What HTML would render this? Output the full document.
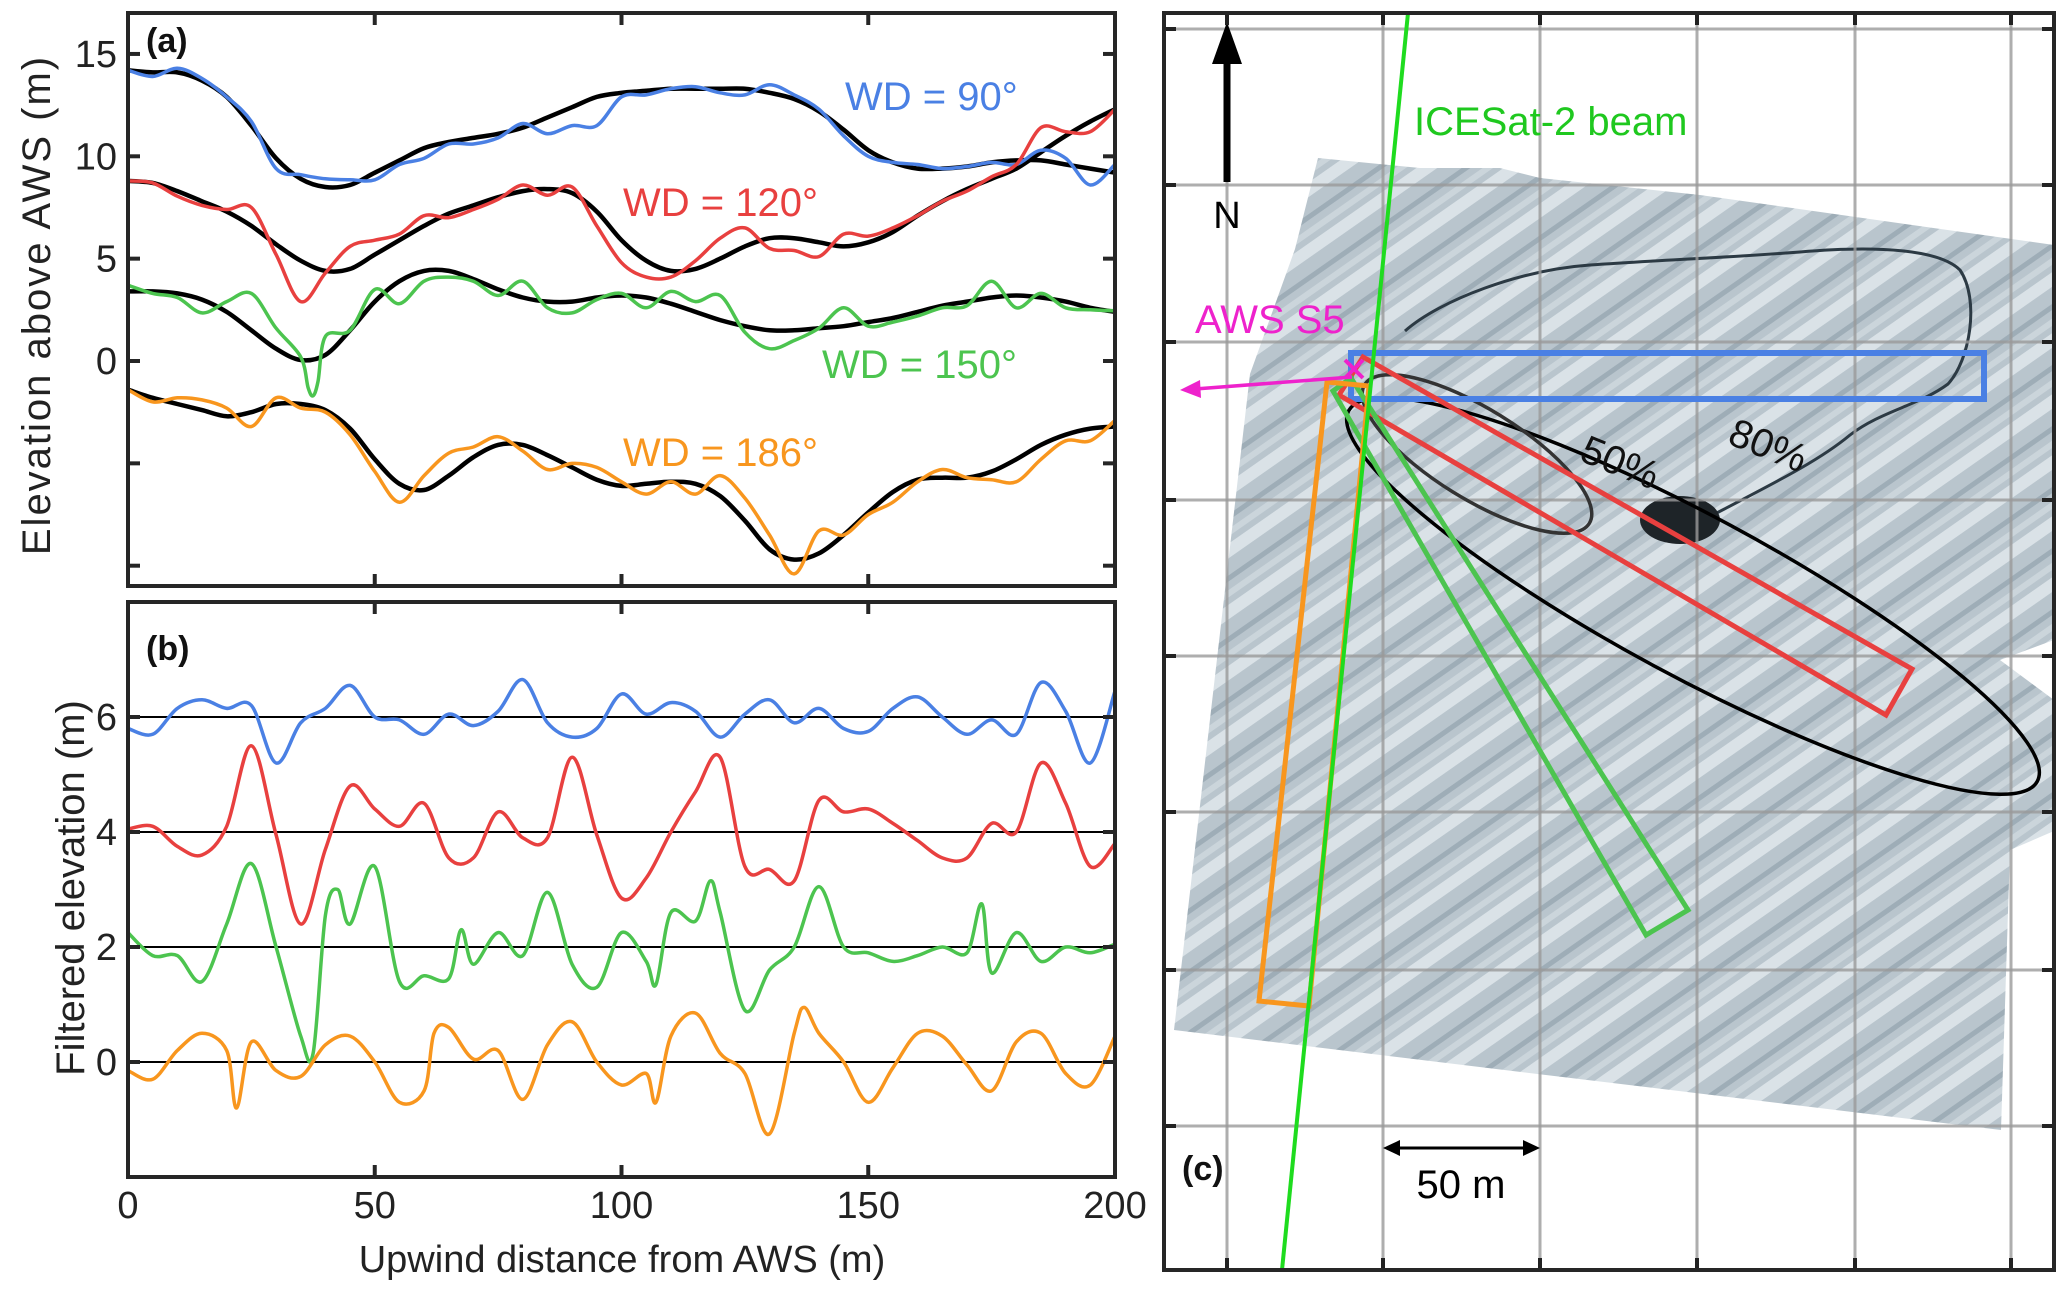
<!DOCTYPE html>
<html><head><meta charset="utf-8"><style>
html,body{margin:0;padding:0;background:#fff;}
svg text{font-family:"Liberation Sans",sans-serif;}
</style></head><body>
<svg id="fig" width="2067" height="1290" viewBox="0 0 2067 1290" xmlns="http://www.w3.org/2000/svg">
<defs>
<pattern id="tex" width="50" height="50" patternUnits="userSpaceOnUse" patternTransform="rotate(-35)">
<rect width="50" height="50" fill="#b9c5cd"/>
<rect x="0" y="0" width="50" height="12" fill="#dae2e7"/>
<rect x="0" y="26" width="50" height="5" fill="#9eadb7"/>
<rect x="0" y="38" width="50" height="6" fill="#cbd5db"/>
</pattern>
<clipPath id="clipA"><rect x="128" y="13" width="987" height="573"/></clipPath>
<clipPath id="clipB"><rect x="128" y="602" width="987" height="575"/></clipPath>
<clipPath id="clipC"><rect x="1164" y="13" width="890" height="1257"/></clipPath>
</defs>
<g id="panelA"></g>
<g id="panelB"></g>
<g id="panelC"></g>
</svg>
<script>
// ---------- Panel (a) data ----------
const distA = [0,5,10,15,20,25,30,35,40,45,50,55,60,65,70,75,80,85,90,95,100,105,110,115,120,125,130,135,140,145,150,155,160,165,170,175,180,185,190,195,200];
const blueA = [14.2,13.9,14.3,13.8,12.9,11.7,9.4,9.1,8.9,8.85,8.85,9.6,9.9,10.6,10.6,10.9,11.6,11.1,11.5,11.5,12.9,13.0,13.3,13.4,13.1,13.0,13.5,13.0,12.3,11.0,10.0,9.7,9.6,9.4,9.5,9.7,9.6,10.3,9.9,8.6,9.6];
const blueFit = [14.2,14.1,14.1,13.7,12.9,11.5,9.9,8.9,8.5,8.6,9.2,9.8,10.4,10.7,10.9,11.1,11.4,11.9,12.4,12.9,13.1,13.2,13.3,13.3,13.3,13.3,13.1,12.8,12.2,11.3,10.3,9.7,9.4,9.4,9.5,9.7,9.8,9.8,9.6,9.4,9.2];
const redA = [8.8,8.7,8.05,7.6,7.4,7.5,5.2,2.9,4.3,5.6,5.9,6.2,7.1,7.0,7.4,7.9,8.6,8.1,8.5,6.6,4.8,4.1,4.1,4.9,6.0,6.5,5.5,5.4,5.1,6.2,6.1,6.5,7.1,7.8,8.3,9.0,9.6,11.4,11.2,11.2,12.3];
const redFit = [8.8,8.7,8.3,7.8,7.3,6.6,5.7,4.9,4.4,4.5,5.2,5.9,6.6,7.2,7.6,8.0,8.3,8.4,8.2,7.3,5.9,4.9,4.4,4.5,5.0,5.6,6.0,6.0,5.8,5.6,5.8,6.3,7.1,7.8,8.4,8.9,9.4,10.2,11.0,11.7,12.3];
const greenA = [3.7,3.3,3.1,2.35,2.9,3.3,1.6,0.2,1.2,1.5,3.5,2.8,3.9,4.1,3.9,3.2,3.9,2.6,2.35,3.0,3.3,2.6,3.4,2.9,3.2,1.4,0.6,1.0,1.6,2.6,1.7,1.9,2.2,2.6,2.7,3.9,2.6,3.3,2.6,2.5,2.45];
const greenFit = [3.4,3.4,3.3,3.0,2.4,1.5,0.6,0.05,0.3,1.5,2.9,3.9,4.4,4.4,4.0,3.5,3.1,2.9,2.9,3.1,3.2,3.1,2.8,2.4,2.0,1.7,1.5,1.5,1.6,1.7,1.9,2.1,2.4,2.7,2.9,3.1,3.2,3.1,2.9,2.6,2.4];
const greenAdipX = [36.5,37.5,38.5];
const greenAdipY = [-1.3,-1.7,-1.0];
const orangeA = [-1.4,-2.0,-1.8,-1.9,-2.3,-3.2,-1.8,-2.3,-2.5,-3.6,-5.4,-6.9,-5.6,-4.5,-4.2,-3.7,-4.4,-5.3,-5.0,-5.2,-5.9,-6.5,-5.9,-6.5,-5.6,-6.7,-8.5,-10.4,-8.3,-8.5,-7.5,-6.9,-5.9,-5.3,-5.7,-5.8,-5.9,-4.8,-3.9,-3.9,-2.9];
const orangeFit = [-1.4,-1.8,-2.1,-2.4,-2.7,-2.5,-2.1,-2.1,-2.4,-3.3,-4.8,-6.0,-6.3,-5.6,-4.7,-4.1,-4.1,-4.6,-5.2,-5.8,-6.1,-6.0,-5.9,-6.0,-6.6,-7.8,-9.2,-9.7,-9.4,-8.5,-7.4,-6.4,-5.8,-5.7,-5.7,-5.4,-4.8,-4.1,-3.6,-3.3,-3.2];
const ticksAy = [15,10,5,0];
const ticksAyUnlabeled = [-5,-10];
// ---------- Panel (b) data ----------
const distB = [0,5,10,15,20,25,30,35,40,45,50,55,60,65,70,75,80,85,90,95,100,105,110,115,120,125,130,135,140,145,150,155,160,165,170,175,180,185,190,195,200];
const blueB = [5.8,5.7,6.15,6.3,6.15,6.2,5.2,5.9,6.15,6.55,6.0,5.95,5.7,6.05,5.85,6.1,6.65,5.9,5.65,5.8,6.4,6.05,6.25,6.1,5.65,6.05,6.3,5.9,6.15,5.8,5.75,6.15,6.35,6.0,5.7,5.95,5.7,6.6,6.1,5.2,6.45];
const redB = [4.05,4.1,3.75,3.6,4.1,5.5,3.95,2.4,3.7,4.8,4.4,4.1,4.5,3.55,3.55,4.35,3.9,3.9,5.3,3.95,2.85,3.2,4.0,4.7,5.3,3.4,3.35,3.15,4.55,4.35,4.4,4.15,3.85,3.55,3.55,4.15,4.0,5.2,4.5,3.4,3.8];
const greenBx = [0,5,10,15,20,25,30,35,37.5,40,42.5,45,50,55,60,65,67.5,70,75,80,85,90,95,100,105,107,110,115,118,120,125,130,135,140,145,150,155,160,165,170,173,175,180,185,190,195,200];
const greenB = [2.25,1.85,1.85,1.4,2.4,3.45,2.0,0.45,0.15,2.55,3.0,2.4,3.4,1.4,1.5,1.45,2.3,1.7,2.25,1.85,2.95,1.7,1.3,2.25,1.75,1.35,2.6,2.45,3.15,2.6,0.9,1.6,2.0,3.05,2.0,1.9,1.75,1.85,2.0,1.9,2.75,1.55,2.25,1.75,2.0,1.9,2.05];
const orangeBx = [0,5,10,15,20,22,25,30,35,40,45,50,55,60,62,65,70,75,80,85,90,95,100,105,107,110,115,120,125,130,135,137,140,145,150,155,160,165,170,175,180,185,190,195,200];
const orangeB = [-0.15,-0.3,0.2,0.5,0.2,-0.8,0.35,-0.15,-0.25,0.3,0.45,0.0,-0.7,-0.5,0.5,0.6,0.05,0.2,-0.65,0.3,0.7,0.0,-0.4,-0.2,-0.7,0.45,0.85,0.15,-0.2,-1.25,0.5,0.95,0.5,0.0,-0.7,-0.1,0.5,0.45,-0.05,-0.5,0.35,0.5,-0.2,-0.4,0.45];
const ticksBy = [6,4,2,0];
const ticksX = [0,50,100,150,200];

const NS = "http://www.w3.org/2000/svg";
function mk(tag, attrs, parent){ const e=document.createElementNS(NS,tag); for(const k in attrs) e.setAttribute(k,attrs[k]); parent.appendChild(e); return e; }
function xS(v){ return 128 + v*(1115-128)/200; }
function yA(v){ return 361 - 20.47*v; }
function yB(v){ return 1062 - 57.5*v; }
function smoothPath(xs, ys, fx, fy){
  const p = xs.map((x,i)=>[fx(x), fy(ys[i])]);
  let d = "M"+p[0][0].toFixed(1)+","+p[0][1].toFixed(1);
  for(let i=0;i<p.length-1;i++){
    const p0=p[Math.max(0,i-1)], p1=p[i], p2=p[i+1], p3=p[Math.min(p.length-1,i+2)];
    const c1=[p1[0]+(p2[0]-p0[0])/6, p1[1]+(p2[1]-p0[1])/6];
    const c2=[p2[0]-(p3[0]-p1[0])/6, p2[1]-(p3[1]-p1[1])/6];
    d += " C"+c1[0].toFixed(1)+","+c1[1].toFixed(1)+" "+c2[0].toFixed(1)+","+c2[1].toFixed(1)+" "+p2[0].toFixed(1)+","+p2[1].toFixed(1);
  }
  return d;
}
function mergeDip(xs, ys, dx, dy){
  const pts = xs.map((x,i)=>[x,ys[i]]).concat(dx.map((x,i)=>[x,dy[i]])).sort((a,b)=>a[0]-b[0]);
  return [pts.map(p=>p[0]), pts.map(p=>p[1])];
}
const C = {blue:"#4a80e4", red:"#e8403f", green:"#4cc44f", orange:"#f8961e"};

// ---- Panel A ----
const A = document.getElementById("panelA");
const gA = mk("g",{"clip-path":"url(#clipA)"},A);
function line(parent, d, color, w, name){
  const el = mk("path",{d:d, fill:"none", stroke:color, "stroke-width":w, "stroke-linejoin":"round"}, parent);
  
  
  return el;
}
line(gA, smoothPath(distA, blueFit, xS, yA), "#000", 4.5, "fit-line-wd90");
line(gA, smoothPath(distA, redFit, xS, yA), "#000", 4.5, "fit-line-wd120");
line(gA, smoothPath(distA, greenFit, xS, yA), "#000", 4.5, "fit-line-wd150");
line(gA, smoothPath(distA, orangeFit, xS, yA), "#000", 4.5, "fit-line-wd186");
line(gA, smoothPath(distA, blueA, xS, yA), C.blue, 3.5, "profile-wd90");
line(gA, smoothPath(distA, redA, xS, yA), C.red, 3.5, "profile-wd120");
const gm = mergeDip(distA, greenA, greenAdipX, greenAdipY);
line(gA, smoothPath(gm[0], gm[1], xS, yA), C.green, 3.5, "profile-wd150");
line(gA, smoothPath(distA, orangeA, xS, yA), C.orange, 3.5, "profile-wd186");

function axes(parent, top, bot, yTicks, yUn, yF, labelTicks, prefix){
  const frame = mk("rect",{x:128,y:top,width:987,height:bot-top,fill:"none",stroke:"#262626","stroke-width":4},parent);
  
  
  ticksX.forEach(v=>{
    const t1 = mk("line",{x1:xS(v),x2:xS(v),y1:top,y2:top+12,stroke:"#262626","stroke-width":4},parent);
    
    
    const t2 = mk("line",{x1:xS(v),x2:xS(v),y1:bot,y2:bot-12,stroke:"#262626","stroke-width":4},parent);
    
    
  });
  yTicks.concat(yUn).forEach(v=>{
    const t1 = mk("line",{x1:128,x2:140,y1:yF(v),y2:yF(v),stroke:"#262626","stroke-width":4},parent);
    
    
    const t2 = mk("line",{x1:1115,x2:1103,y1:yF(v),y2:yF(v),stroke:"#262626","stroke-width":4},parent);
    
    
  });
  if(labelTicks){
    yTicks.forEach(v=>{
      const t = mk("text",{x:117,y:yF(v)+13,"text-anchor":"end","font-size":38,fill:"#222"},parent);
      t.textContent = v;
      
      
    });
  }
}
axes(A, 13, 586, ticksAy, ticksAyUnlabeled, yA, true, "panel-a");
function txt(parent, s, attrs, name){
  const t = mk("text", attrs, parent); t.textContent = s;
  
  
  return t;
}
txt(A,"(a)",{x:146,y:52,"font-size":34,"font-weight":"bold",fill:"#111"},"panel-a-label");
txt(A,"WD = 90°",{x:845,y:110,"font-size":40,fill:C.blue},"label-wd90");
txt(A,"WD = 120°",{x:623,y:216,"font-size":40,fill:C.red},"label-wd120");
txt(A,"WD = 150°",{x:822,y:378,"font-size":40,fill:C.green},"label-wd150");
txt(A,"WD = 186°",{x:623,y:466,"font-size":40,fill:C.orange},"label-wd186");
txt(A,"Elevation  above  AWS  (m)",{x:0,y:0,"font-size":40,fill:"#222","text-anchor":"middle","letter-spacing":"2",transform:"translate(50,305) rotate(-90)"},"y-axis-title-a");

// ---- Panel B ----
const B = document.getElementById("panelB");
const gB = mk("g",{"clip-path":"url(#clipB)"},B);
ticksBy.forEach(v=>{
  const l = mk("line",{x1:128,x2:1115,y1:yB(v),y2:yB(v),stroke:"#000","stroke-width":2},gB);
  
  
});
line(gB, smoothPath(distB, blueB, xS, yB), C.blue, 3.5, "filtered-wd90");
line(gB, smoothPath(distB, redB, xS, yB), C.red, 3.5, "filtered-wd120");
line(gB, smoothPath(greenBx, greenB, xS, yB), C.green, 3.5, "filtered-wd150");
line(gB, smoothPath(orangeBx, orangeB, xS, yB), C.orange, 3.5, "filtered-wd186");
axes(B, 602, 1177, ticksBy, [], yB, true, "panel-b");
ticksX.forEach(v=>{
  txt(B, String(v), {x:xS(v), y:1218, "text-anchor":"middle","font-size":38,fill:"#222"}, "x-tick-label");
});
txt(B,"(b)",{x:146,y:660,"font-size":34,"font-weight":"bold",fill:"#111"},"panel-b-label");
txt(B,"Filtered elevation (m)",{x:0,y:0,"font-size":40,fill:"#222","text-anchor":"middle",transform:"translate(84,888) rotate(-90)"},"y-axis-title-b");
txt(B,"Upwind distance from AWS (m)",{x:622,y:1272,"font-size":38,fill:"#222","text-anchor":"middle"},"x-axis-title");

// ---- Panel C (map) ----
const P = document.getElementById("panelC");
const gC = mk("g",{"clip-path":"url(#clipC)"},P);
const mapPoly = mk("polygon",{points:"1318,158 1420,168 1500,168 1540,178 1700,195 2054,245 2054,640 2000,660 2054,700 2054,831 2010,850 2001,1130 1174,1030 1250,374 1295,249",fill:"url(#tex)",stroke:"none"},gC);


const river = mk("path",{d:"M1405,331 C1440,300 1520,270 1590,265 C1660,260 1722,258 1800,252 C1880,245 1940,250 1960,270 C1980,300 1970,360 1948,384 C1920,405 1881,411 1850,435 C1820,460 1780,480 1709,517",fill:"none",stroke:"#2c3a44","stroke-width":3},gC);


const lake = mk("ellipse",{cx:1680,cy:520,rx:40,ry:24,fill:"#1e2428"},gC);


// grid
const gridX = [1227,1383,1540,1697,1855,2011];
const gridY = [29,185,342,500,656,812,970,1126];
gridX.forEach(x=>{ const l=mk("line",{x1:x,x2:x,y1:13,y2:1270,stroke:"#9a9a9a","stroke-width":3,opacity:0.8},gC);  
  mk("line",{x1:x,x2:x,y1:13,y2:25,stroke:"#222","stroke-width":4},P); mk("line",{x1:x,x2:x,y1:1270,y2:1258,stroke:"#222","stroke-width":4},P); });
gridY.forEach(y=>{ const l=mk("line",{x1:1164,x2:2054,y1:y,y2:y,stroke:"#9a9a9a","stroke-width":3,opacity:0.8},gC);  
  mk("line",{x1:1164,x2:1176,y1:y,y2:y,stroke:"#222","stroke-width":4},P); mk("line",{x1:2054,x2:2042,y1:y,y2:y,stroke:"#222","stroke-width":4},P); });
// footprints
const f80 = mk("ellipse",{cx:1693,cy:596,rx:391,ry:80,fill:"none",stroke:"#000","stroke-width":3.5,transform:"rotate(28.3 1693 596)"},gC);
 
const f50 = mk("ellipse",{cx:1477,cy:454,rx:132,ry:45,fill:"none",stroke:"#333","stroke-width":3.5,transform:"rotate(31.7 1477 454)"},gC);
 
const rb = mk("polygon",{points:"1351,353 1984,353 1984,399 1351,399",fill:"none",stroke:C.blue,"stroke-width":6},gC);
 
const rr = mk("polygon",{points:"1363,357 1912,669 1886,715 1339,395",fill:"none",stroke:C.red,"stroke-width":5},gC);
 
const rg = mk("polygon",{points:"1351,378 1688,910 1646,935 1333,391",fill:"none",stroke:C.green,"stroke-width":5},gC);
 
const ro = mk("polygon",{points:"1327,382 1369,386 1309,1006 1259,1001",fill:"none",stroke:C.orange,"stroke-width":5},gC);
 
const beam = mk("line",{x1:1408,y1:13,x2:1282,y2:1270,stroke:"#1fdc1f","stroke-width":4},gC);
 
txt(gC,"ICESat-2 beam",{x:1414,y:135,"font-size":40,fill:"#1fc81f"},"icesat2-label");
txt(gC,"50%",{x:0,y:0,"font-size":40,fill:"#111",transform:"translate(1578,460) rotate(22)"},"label-50-percent");
txt(gC,"80%",{x:0,y:0,"font-size":40,fill:"#111",transform:"translate(1726,443) rotate(22)"},"label-80-percent");
// AWS
const aws = mk("g",{},gC);  
mk("line",{x1:1345,y1:360,x2:1363,y2:378,stroke:"#ee22cc","stroke-width":4},aws);
mk("line",{x1:1363,y1:360,x2:1345,y2:378,stroke:"#ee22cc","stroke-width":4},aws);
mk("line",{x1:1352,y1:377,x2:1195,y2:389,stroke:"#ee22cc","stroke-width":3.5},aws);
mk("polygon",{points:"1180,390 1200,380 1201,398",fill:"#ee22cc"},aws);
txt(gC,"AWS S5",{x:1195,y:333,"font-size":40,fill:"#ee22cc"},"aws-s5-label");
// north arrow
const na = mk("g",{},gC);  
mk("line",{x1:1227,y1:60,x2:1227,y2:182,stroke:"#000","stroke-width":7},na);
mk("polygon",{points:"1227,22 1212,64 1242,64",fill:"#000"},na);
txt(gC,"N",{x:1227,y:228,"font-size":38,"text-anchor":"middle",fill:"#000"},"north-label");
// scale bar
const sb = mk("g",{},gC);  
mk("line",{x1:1388,y1:1148,x2:1535,y2:1148,stroke:"#000","stroke-width":3},sb);
mk("polygon",{points:"1383,1148 1400,1140 1400,1156",fill:"#000"},sb);
mk("polygon",{points:"1540,1148 1523,1140 1523,1156",fill:"#000"},sb);
txt(gC,"50 m",{x:1461,y:1198,"font-size":40,"text-anchor":"middle",fill:"#000"},"scale-bar-label");
txt(gC,"(c)",{x:1182,y:1180,"font-size":34,"font-weight":"bold",fill:"#111"},"panel-c-label");
const fc = mk("rect",{x:1164,y:13,width:890,height:1257,fill:"none",stroke:"#262626","stroke-width":4},P);
 
</script>
</body></html>
